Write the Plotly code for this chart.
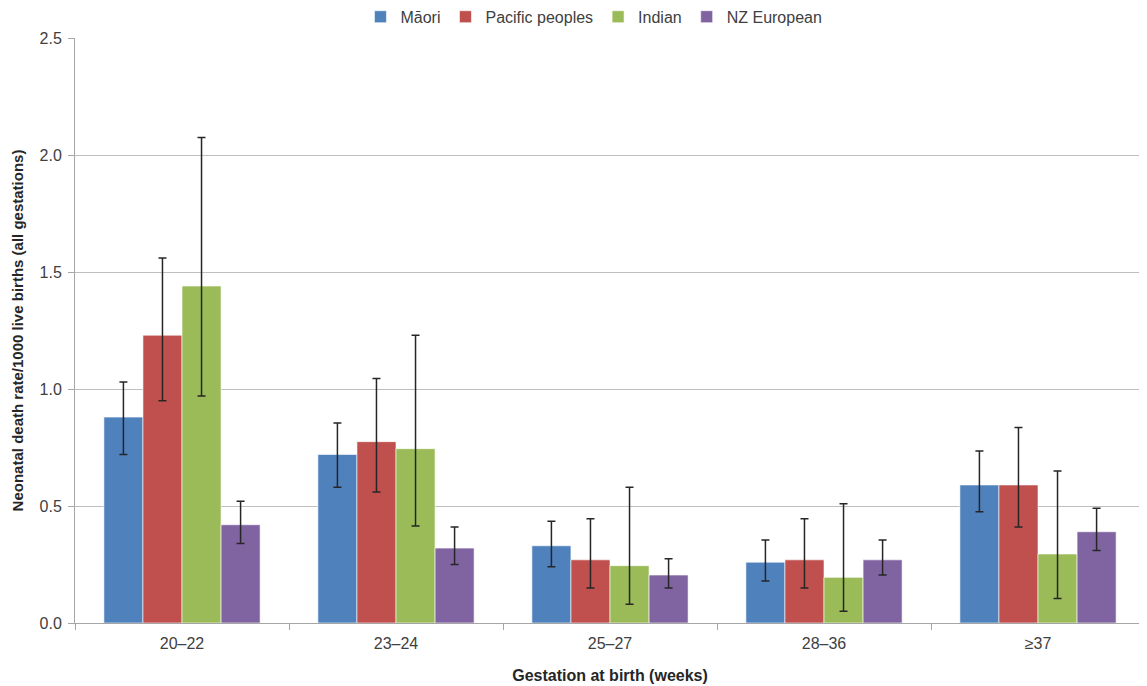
import plotly.graph_objects as go

categories = ["20–22", "23–24", "25–27", "28–36", "≥37"]
series_names = ["Māori", "Pacific peoples", "Indian", "NZ European"]
colors = ["#4F81BD", "#C0504D", "#9BBB59", "#8064A2"]

maori = [0.88, 0.72, 0.33, 0.26, 0.59]
maori_hi = [1.03, 0.855, 0.435, 0.355, 0.735]
maori_lo = [0.72, 0.58, 0.24, 0.18, 0.475]

pacific = [1.23, 0.775, 0.27, 0.27, 0.59]
pacific_hi = [1.56, 1.045, 0.445, 0.445, 0.835]
pacific_lo = [0.95, 0.56, 0.15, 0.15, 0.41]

indian = [1.44, 0.745, 0.245, 0.195, 0.295]
indian_hi = [2.075, 1.23, 0.58, 0.51, 0.65]
indian_lo = [0.97, 0.415, 0.08, 0.05, 0.105]

nzeuro = [0.42, 0.32, 0.205, 0.27, 0.39]
nzeuro_hi = [0.52, 0.41, 0.275, 0.355, 0.49]
nzeuro_lo = [0.34, 0.25, 0.15, 0.205, 0.31]

values = [maori, pacific, indian, nzeuro]
highs = [maori_hi, pacific_hi, indian_hi, nzeuro_hi]
lows = [maori_lo, pacific_lo, indian_lo, nzeuro_lo]

FONT = "Liberation Sans"

fig = go.Figure()
for name, col, v, hi, lo in zip(series_names, colors, values, highs, lows):
    fig.add_trace(go.Bar(
        x=categories, y=v, name=name,
        marker=dict(color=col, line=dict(color="rgba(255,255,255,0.6)", width=1)),
        error_y=dict(
            type="data", symmetric=False,
            array=[h - a for h, a in zip(hi, v)],
            arrayminus=[a - l for a, l in zip(v, lo)],
            color="#262626", thickness=1.5, width=4,
        ),
    ))

fig.update_layout(
    width=1139, height=678,
    margin=dict(l=67, r=2, t=30, b=63, autoexpand=False),
    paper_bgcolor="white", plot_bgcolor="white",
    barmode="group", bargap=0.27, bargroupgap=0,
    font=dict(family=FONT, size=15, color="#404040"),
    legend=dict(
        orientation="h", xref="paper", x=0.485, xanchor="center",
        yref="container", y=0.987, yanchor="middle",
        font=dict(size=16, color="#404040"), itemwidth=30,
        traceorder="normal", tracegroupgap=0,
    ),
    xaxis=dict(
        showline=True, linecolor="#A6A6A6", linewidth=1,
        ticks="outside", tickson="boundaries", ticklen=6, tickcolor="#A6A6A6",
        tickfont=dict(size=16, color="#404040"),
        ticklabelstandoff=6,
        title=dict(text="<b>Gestation at birth (weeks)</b>", font=dict(size=16, color="#262626"), standoff=18),
    ),
    yaxis=dict(
        range=[0, 2.5], dtick=0.5, tickformat=".1f",
        showgrid=True, gridcolor="#BFBFBF", gridwidth=1,
        showline=True, linecolor="#A6A6A6", linewidth=1,
        ticks="outside", ticklen=6, tickcolor="#A6A6A6",
        tickfont=dict(size=16, color="#404040"),
        ticklabelstandoff=3,
        zeroline=False,
        title=dict(text="<b>Neonatal death rate/1000 live births (all gestations)</b>", font=dict(size=15, color="#262626"), standoff=12),
    ),
)

fig.write_html("out.html")
